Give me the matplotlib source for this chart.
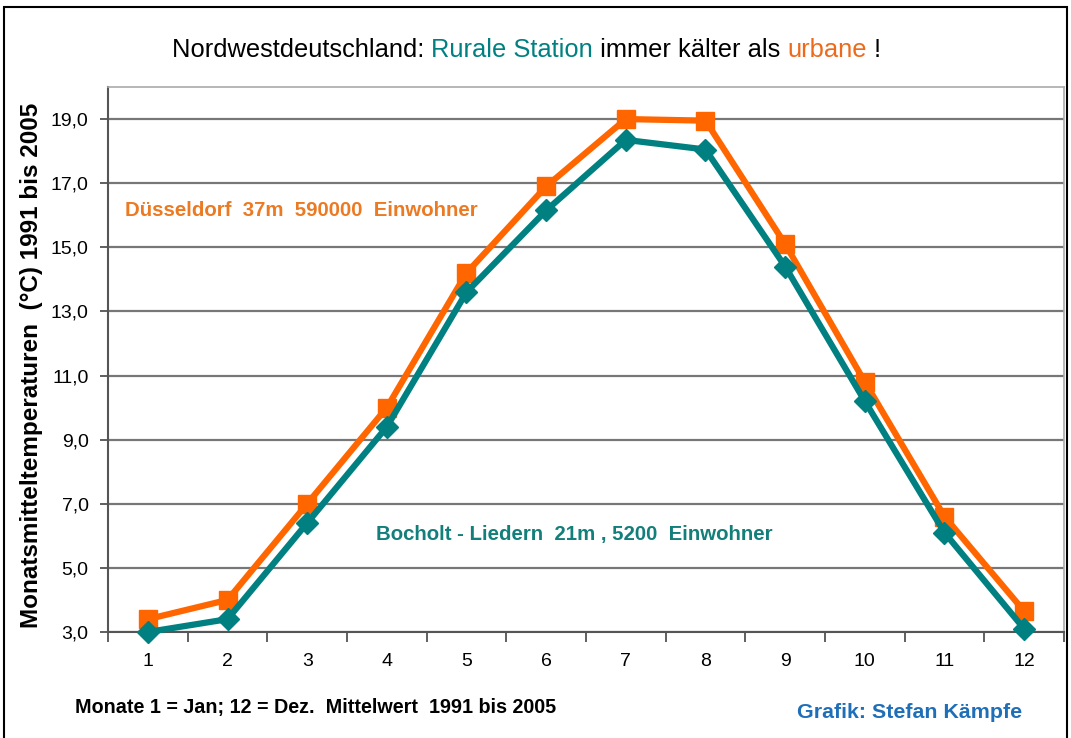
import matplotlib.pyplot as plt
from matplotlib.patches import Rectangle

# Monatsmittel 1991-2005
monate = [1, 2, 3, 4, 5, 6, 7, 8, 9, 10, 11, 12]
duesseldorf = [3.4, 4.0, 7.0, 10.0, 14.2, 16.9, 19.0, 18.95, 15.1, 10.8, 6.6, 3.65]
bocholt = [3.0, 3.4, 6.4, 9.4, 13.6, 16.15, 18.35, 18.05, 14.4, 10.2, 6.1, 3.1]
y_ticks = [3, 5, 7, 9, 11, 13, 15, 17, 19]

orange = '#FF6600'
teal = '#008080'
sans = ['Liberation Sans', 'DejaVu Sans']

fig = plt.figure(figsize=(10.71, 7.38), dpi=100)
ax = fig.add_axes([108 / 1071, 1 - 632 / 738, (1064 - 108) / 1071, (632 - 87) / 738])

ax.plot(monate, duesseldorf, color=orange, lw=4.5, marker='s', ms=13, clip_on=False, zorder=3)
ax.plot(monate, bocholt, color=teal, lw=4.5, marker='D', ms=11, clip_on=False, zorder=4)

ax.set_xlim(0.5, 12.5)
ax.set_ylim(3, 20)
ax.set_yticks(y_ticks)
ax.set_yticklabels([f'{v},0' for v in y_ticks], fontfamily=sans, fontsize=14)
ax.set_xticks(monate)
ax.set_xticklabels([str(m) for m in monate], fontfamily=sans, fontsize=14)
ax.set_xticks([m + 0.5 for m in range(13)], minor=True)
ax.tick_params(axis='x', which='major', length=0, pad=15)
ax.tick_params(axis='x', which='minor', length=7, width=1.2, color='#444444', direction='out')
ax.tick_params(axis='y', length=6, width=1.2, color='#444444', pad=8)
ax.grid(axis='y', color='#777777', lw=1.6)
ax.set_axisbelow(True)
for s in ['left', 'bottom']:
    ax.spines[s].set_color('#555555')
    ax.spines[s].set_linewidth(1.5)
for s in ['top', 'right']:
    ax.spines[s].set_color('#aaaaaa')
    ax.spines[s].set_linewidth(1.2)

ax.set_ylabel('Monatsmitteltemperaturen  (°C) 1991 bis 2005', fontfamily=sans,
              fontweight='bold', fontsize=17.5)
ax.yaxis.set_label_coords(-65 / 956, 0.49)

ax.text(0.71, 16.15, 'Düsseldorf  37m  590000  Einwohner', color='#EC7A23',
        fontfamily=sans, fontweight='bold', fontsize=14.7, va='center')
ax.text(3.87, 6.05, 'Bocholt - Liedern  21m , 5200  Einwohner', color='#137F7A',
        fontfamily=sans, fontweight='bold', fontsize=14.7, va='center')

# title in three colours
parts = [('Nordwestdeutschland: ', 'black'), ('Rurale Station', teal),
         (' immer kälter als ', 'black'), ('urbane', '#EC6A1C'), (' !', 'black')]
renderer = fig.canvas.get_renderer()
x = 172 / 1071
for txt, col in parts:
    t = fig.text(x, 1 - 50 / 738, txt, color=col, fontfamily=sans, fontsize=18.4,
                 va='center', ha='left')
    bb = t.get_window_extent(renderer=renderer)
    x += bb.width / fig.bbox.width

fig.text(75 / 1071, 1 - 707 / 738, 'Monate 1 = Jan; 12 = Dez.  Mittelwert  1991 bis 2005',
         fontfamily=sans, fontweight='bold', fontsize=14.2, va='center')
fig.text(797 / 1071, 1 - 713 / 738, 'Grafik: Stefan Kämpfe', color='#1F6FB8',
         fontfamily=sans, fontweight='bold', fontsize=15.4, va='center')

fig.patches.append(Rectangle((4 / 1071, -0.01), 1063 / 1071, 1 - 7 / 738 + 0.01,
                             transform=fig.transFigure, fill=False, ec='black', lw=1.5))

fig.savefig('out.png', dpi=100)
